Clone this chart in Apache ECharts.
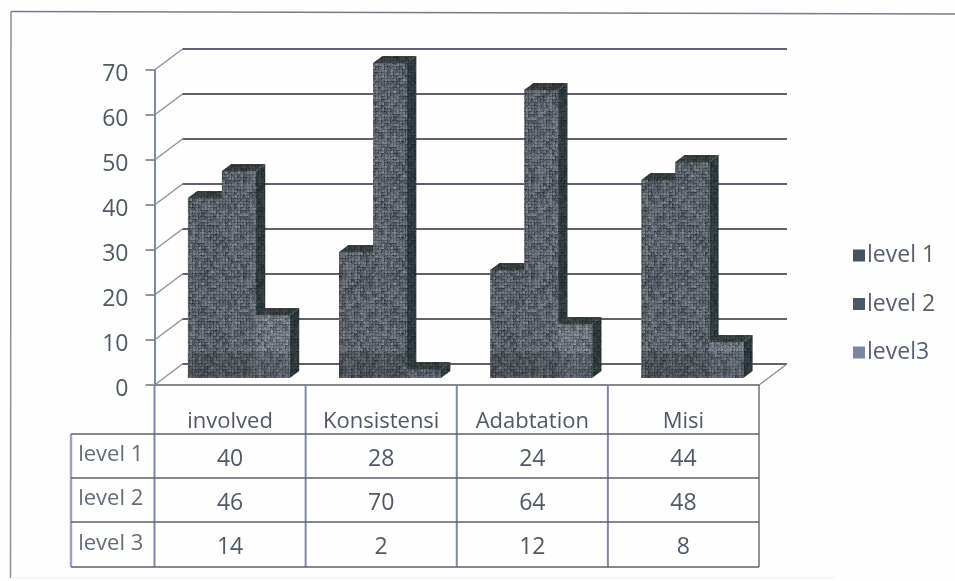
<!DOCTYPE html>
<html><head><meta charset="utf-8">
<style>html,body{margin:0;padding:0;background:#fff}#c{width:955px;height:581px}</style>
<script src="https://cdn.jsdelivr.net/npm/echarts@6/dist/echarts.min.js"></script>
</head><body><div id="c"></div>
<script>
const categories = ['involved','Konsistensi','Adabtation','Misi'];
const seriesNames = ['level 1','level 2','level3'];
const rowLabels = ['level 1','level 2','level 3'];
const level1 = [40,28,24,44];
const level2 = [46,70,64,48];
const level3 = [14,2,12,8];
const yTicks = [0,10,20,30,40,50,60,70];

const FONT = '"Open Sans"';
const TXT = '#4f5966';
const depthX = 28, depthY = 21;      // floor depth of the 3D box
const barW = 34;

function texture(base, amp){
  const s = 96, cv = document.createElement('canvas');
  cv.width = cv.height = s;
  const g = cv.getContext('2d');
  let h = 12345;
  const next = ()=>{ h = (h*1103515245+12345)&0x7fffffff; return ((h>>16)&255)/255-0.5; };
  const coarse = [];
  for(let i=0;i<64*64;i++) coarse.push(next());
  for(let y=0;y<s;y++)for(let x=0;x<s;x++){
    const n = next();
    const b = coarse[(Math.floor(x/3)%32)+(Math.floor(y/3)%32)*64];
    const d = ((x%3===0)?-0.3:0.1)+((y%3===0)?-0.3:0.1)+n*1.0+b*0.9;
    const c = base.map(v=>Math.max(0,Math.min(255,Math.round(v+d*amp))));
    g.fillStyle=`rgb(${c[0]},${c[1]},${c[2]})`;
    g.fillRect(x,y,1,1);
  }
  return {image:cv,repeat:'repeat'};
}
const faceFill = [texture([92,98,105],44),texture([94,100,107],44),texture([108,114,124],46)];
const sideFill = texture([46,58,60],20);
const topFill  = texture([54,62,64],20);
const legendColors = ['#46535f','#4c5868','#7c86a3'];

function barRenderer(idx){
  return function(params, api){
    const cat = api.value(0), v = api.value(1);
    const c0 = api.coord([cat,0]), c1 = api.coord([cat,v]);
    const dx = depthX/3, dy = depthY/3;
    const left = c0[0]-barW*1.5+barW*idx+dx-0.5;
    const right = left+barW;
    const yb = c0[1]-dy, yt = c1[1]-dy;
    const bandTop = Math.max(yt, api.coord([cat,5.6])[1]-dy);
    return {type:'group',children:[
      {type:'rect',shape:{x:left,y:yt,width:barW,height:yb-yt},style:{fill:faceFill[idx]}},
      {type:'rect',shape:{x:left,y:bandTop,width:barW,height:yb-bandTop},style:{fill:'rgba(30,36,42,0.2)'}},
      {type:'polygon',shape:{points:[[right,yt],[right+dx,yt-dy],[right+dx,yb-dy],[right,yb]]},style:{fill:sideFill}},
      {type:'polygon',shape:{points:[[left,yt],[left+dx,yt-dy],[right+dx,yt-dy],[right,yt]]},style:{fill:topFill}}
    ]};
  };
}
function wallRenderer(params, api){
  const v = api.value(0), cs = params.coordSys, y = api.coord([0,v])[1];
  return {type:'group',children:[
    {type:'polyline',shape:{points:[[cs.x,y],[cs.x+depthX,y-depthY]]},style:{fill:'none',stroke:'#8b8e95',lineWidth:1.3}},
    {type:'line',shape:{x1:cs.x+depthX,y1:y-depthY,x2:cs.x+cs.width+depthX,y2:y-depthY},style:{stroke:'#5f626e',lineWidth:1.8}}
  ].concat(v===0?[{type:'line',shape:{x1:cs.x+cs.width,y1:y,x2:cs.x+cs.width+depthX,y2:y-depthY},style:{stroke:'#8b8e95',lineWidth:1.3}}]:[])};
}
const rows = [level1,level2,level3];
const rowY = [434,478,522,567];
const tableLeft = 71;
function tableRenderer(params, api){
  const cs = params.coordSys, bw = cs.width/categories.length, ch = [];
  const hline = (x1,x2,y)=>ch.push({type:'line',shape:{x1,y1:y,x2,y2:y},style:{stroke:'#5c6068',lineWidth:1.7}});
  const vline = (x,y1,y2,c,w)=>ch.push({type:'line',shape:{x1:x,y1,x2:x,y2},style:{stroke:c||'#7e89a6',lineWidth:w||2}});
  for(let i=0;i<=categories.length;i++) vline(cs.x+bw*i, cs.y+cs.height, rowY[3], i===categories.length?'#5f6878':'#7e89a6', i===categories.length?1.4:2);
  vline(tableLeft,rowY[0],rowY[3],'#9a9fd0',2.4);
  rowY.forEach(y=>hline(tableLeft,cs.x+cs.width,y));
  rows.forEach((row,r)=>{
    const cy=(rowY[r]+rowY[r+1])/2;
    ch.push({type:'text',x:(tableLeft+cs.x)/2-2,y:cy-1,style:{text:rowLabels[r],fill:'#636c78',font:'22px '+FONT,align:'center',verticalAlign:'middle'}});
    row.forEach((v,i)=>ch.push({type:'text',x:cs.x+bw*(i+0.5),y:cy+3,style:{text:String(v),fill:TXT,font:'23px '+FONT,align:'center',verticalAlign:'middle'}}));
  });
  return {type:'group',children:ch};
}
function frameRenderer(){
  return {type:'group',children:[
    {type:'line',shape:{x1:11,y1:11.5,x2:955,y2:14},style:{stroke:'#777b86',lineWidth:1.5}},
    {type:'line',shape:{x1:11,y1:11.5,x2:10.5,y2:578},style:{stroke:'#8d8f9c',lineWidth:1.5}},
    {type:'line',shape:{x1:11,y1:578,x2:835,y2:578},style:{stroke:'#eceef1',lineWidth:1}}
  ]};
}

const option = {
  animation:false,
  backgroundColor:'#fefefe',
  textStyle:{fontFamily:FONT},
  grid:{left:154.5,top:70,width:604.5,height:315,containLabel:false},
  legend:{
    orient:'vertical',left:848,top:239,itemWidth:12,itemHeight:12,itemGap:25.5,
    selectedMode:false,icon:'rect',
    data:seriesNames,
    textStyle:{color:'#56606f',fontSize:23,fontFamily:FONT,padding:[0,0,0,-3]}
  },
  xAxis:{type:'category',data:categories,
    axisLine:{lineStyle:{color:'#5c6068',width:1.7}},
    axisTick:{show:false},
    axisLabel:{interval:0,margin:26,fontSize:22,color:TXT,fontFamily:FONT},
    splitLine:{show:false}},
  yAxis:{type:'value',min:0,max:70,interval:10,
    axisLine:{show:true,lineStyle:{color:'#7e89a6',width:2}},
    axisTick:{show:true,length:9,lineStyle:{color:'#70747c',width:1.5}},
    axisLabel:{margin:26,color:TXT,fontFamily:FONT,formatter:'{a|{value}}',
      rich:{a:{fontSize:23,color:TXT,fontFamily:FONT,padding:[8,0,0,0]}}},
    splitLine:{show:false}},
  series:[
    {type:'custom',name:'frame',silent:true,z:0,renderItem:frameRenderer,data:[[0]],encode:{x:0},tooltip:{show:false}},
    {type:'custom',name:'wall',silent:true,z:1,renderItem:wallRenderer,data:yTicks.map(v=>[v]),dimensions:['v']},
    {type:'custom',name:'table',silent:true,z:1,renderItem:tableRenderer,data:[[0]]},
    ...[level1,level2,level3].map((vals,i)=>({
      type:'custom',name:seriesNames[i],z:3,
      itemStyle:{color:legendColors[i]},
      renderItem:barRenderer(i),
      encode:{x:0,y:1},
      data:vals.map((v,k)=>[k,v])
    }))
  ]
};
echarts.init(document.getElementById('c'),null,{renderer:'canvas'}).setOption(option);
</script></body></html>
